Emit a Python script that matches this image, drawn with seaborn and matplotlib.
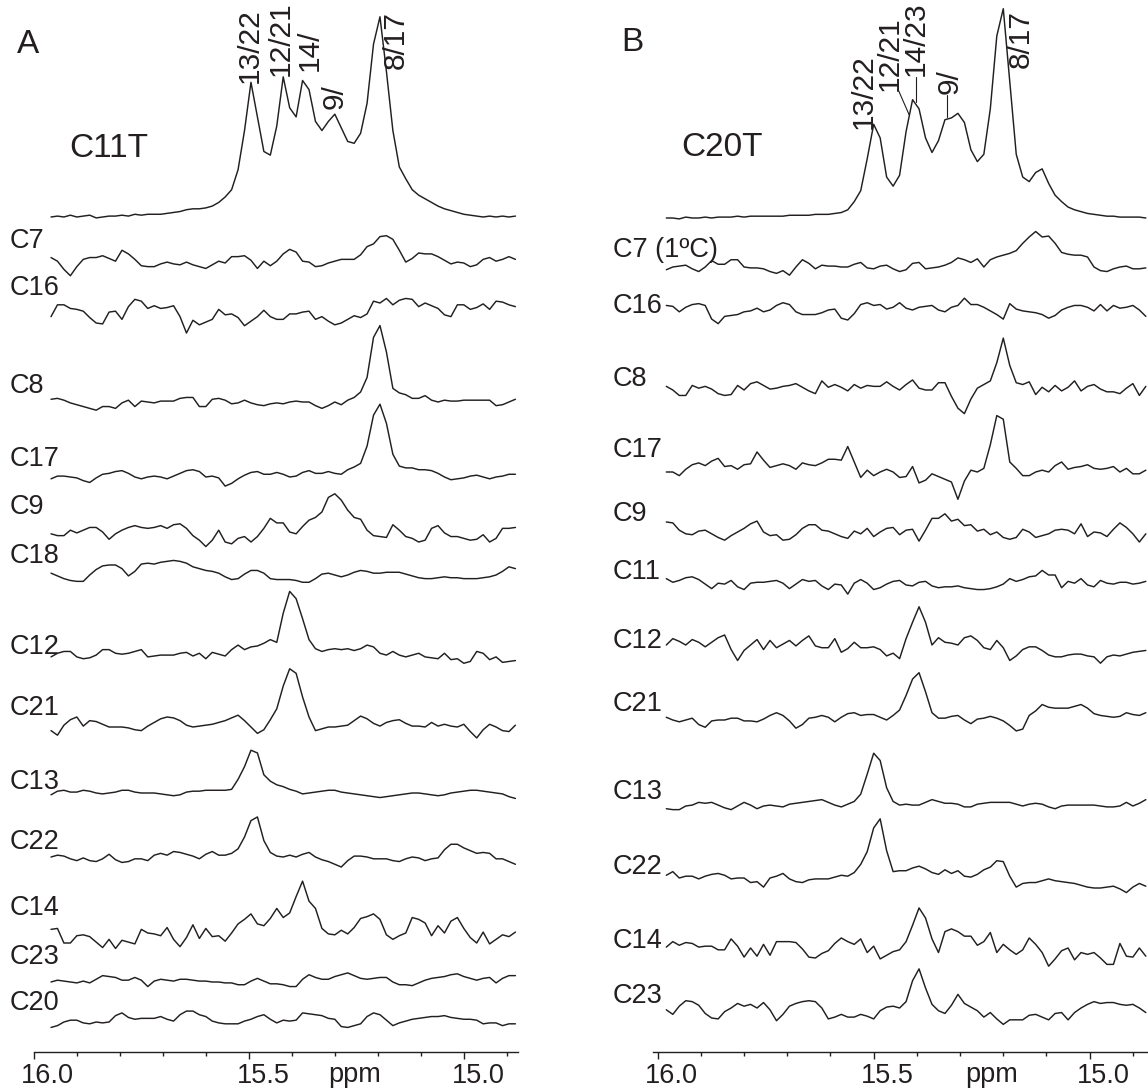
import matplotlib
matplotlib.use('Agg')
import matplotlib.pyplot as plt
from matplotlib.transforms import ScaledTranslation, blended_transform_factory
import numpy as np
import seaborn as sns

# chemical shift grid: first point and spacing (ppm)
a_start, b_start, step = 15.96, 15.98, 0.015

# panel A, 13C spectra of C11T and slices (intensities, arbitrary units)
a_c11t = [0, 1, 0, 2, 0, 1, 2, -1, 0, 1, 1, 2, 1, 3, 2, 3, 3, 3, 4, 5,
          6, 8, 9, 9, 10, 12, 16, 22, 30, 52, 95, 148, 110, 72, 68, 100, 154, 120, 110, 150,
          140, 105, 95, 105, 113, 98, 83, 81, 92, 125, 190, 220, 160, 95, 55, 42, 30, 24, 20, 16,
          12, 9, 7, 5, 3, 2, 1, 0, 1, 0, 1, 0, 1]
a_c7 = [6, 2, -7, -14, -4, 4, 6, 6, 8, 5, 2, 14, 10, 4, -3, -4, -4, -1, 1, -1,
        -2, 1, -2, -4, -6, -2, 2, 0, 7, 7, 8, 3, -6, 2, -3, 2, 10, 15, 12, 2,
        1, -4, -3, 0, 2, 4, 4, 4, 9, 18, 21, 29, 30, 26, 14, 1, 5, 11, 10, 10,
        7, 3, -1, 1, 0, -4, -2, 4, 6, 2, 4, 7, 4]
a_c16 = [-4, 9, 9, 5, 4, 2, -5, -11, -12, 1, 2, -7, 7, 15, 13, 5, 8, 5, 6, 8,
         -4, -22, -8, -13, -10, -7, 4, -2, -1, -5, -14, -9, -4, 3, -4, -7, -7, -1, -1, 1,
         2, -7, -4, -9, -13, -11, -7, -3, -5, -1, 13, 11, 16, 9, 14, 16, 15, 7, 11, 8,
         5, -2, -4, 9, 9, 4, 6, 10, 4, 13, 12, 9, 7]
a_c8 = [3, 4, 2, -1, -3, -5, -7, -9, -5, -5, -7, -1, 2, -5, 1, 0, -1, 1, 1, 1,
        4, 5, 5, -5, -5, 3, 4, 2, -2, -1, 2, -1, -3, -4, -2, -1, -2, 0, 1, 0,
        0, -4, -7, -4, 0, -3, 2, 5, 11, 27, 71, 84, 55, 15, 10, 8, 4, 4, 7, 2,
        0, 2, 1, 1, 2, 2, 2, 2, 2, -4, -3, 0, 3]
a_c17 = [-2, 1, 1, 0, -1, -4, -6, -1, 3, 4, 6, 7, 4, 0, -2, 0, 1, 0, -2, 1,
         4, 7, 8, 6, 0, 1, -1, -10, -7, -2, 2, 5, 6, 3, 3, 5, 3, 0, 1, 5,
         7, 4, 4, 6, 4, 3, 8, 11, 15, 34, 68, 80, 59, 25, 12, 10, 10, 8, 8, 7,
         4, 0, -3, -2, -1, 1, 2, 0, -2, 0, 1, 3, 3]
a_c9 = [-2, -4, -4, 2, -1, 2, 5, 5, 0, -8, -2, 2, 5, 7, 5, 4, 5, 7, 4, 8,
        9, 4, -4, -9, -16, -9, 2, -11, -13, -7, -5, -11, -5, 4, 15, 10, 10, 0, -2, 6,
        13, 16, 22, 38, 42, 35, 24, 16, 14, 2, -4, -5, -6, 8, 2, -5, -7, -11, -9, 4,
        7, -1, -5, -5, -7, -9, -8, -3, -11, -7, 4, 4, 5]
a_c18 = [2, -1, -4, -6, -7, -7, 0, 6, 10, 11, 11, 7, -1, 4, 12, 13, 12, 14, 15, 16,
         15, 13, 9, 7, 5, 4, 2, -2, -5, -4, 1, 5, 5, 2, -4, -5, -5, -5, -6, -8,
         -8, -4, 1, 2, 0, -2, 0, 3, 5, 4, 2, 2, 3, 3, 3, 1, -1, -3, -4, -4,
         -3, -2, -3, -3, -4, -4, -4, -3, -2, 0, 4, 9, 7]
a_c12 = [-1, 3, 5, 5, -1, -3, -2, 1, 7, 7, 3, 2, 3, 5, 7, -1, 0, 1, 1, 1,
         3, 4, 0, 3, -3, 4, 2, 0, 7, 12, 7, 10, 11, 14, 18, 15, 47, 71, 63, 41,
         18, 8, 5, 7, 8, 7, 8, 6, 8, 12, 10, 3, 1, 5, 1, -1, 1, 3, -1, -2,
         -3, 3, -4, -3, -8, -6, 5, 3, -4, -1, -7, -6, -5]
a_c21 = [-4, -9, 2, 8, 11, 1, 7, 6, 3, 0, 0, 0, -1, -3, -4, 1, 5, 9, 11, 10,
         7, 2, 0, 1, 2, 3, 5, 7, 10, 13, 7, 0, -7, -3, 8, 20, 45, 64, 59, 33,
         11, -4, -2, 0, 0, 1, 2, 7, 12, 9, 4, 1, 5, 7, 8, 4, 1, 1, 0, 5,
         1, 3, 1, 0, 3, -5, -12, -3, 3, 0, -4, -5, 2]
a_c13 = [-2, 2, 3, 1, 1, 3, 2, 0, -1, 0, 1, 3, 3, 1, 0, 0, 0, -1, -2, -3,
         -2, 1, 2, 2, 3, 3, 3, 3, 4, 15, 29, 47, 44, 20, 13, 9, 7, 4, 2, -1,
         0, 1, 2, 3, 3, 1, 0, -1, -2, -3, -4, -5, -4, -3, -2, -1, 0, 0, -1, -2,
         -3, -2, 0, 1, 2, 3, 3, 2, 1, 0, -1, -4, -6]
a_c22 = [0, 2, 1, -2, -4, -1, -4, -5, -2, 3, -3, -6, -5, -2, -2, -4, 2, 4, 2, 6,
         5, 3, 1, -2, 3, 6, 2, 2, 4, 9, 22, 40, 44, 18, 5, 1, 0, 2, 0, 3,
         5, 0, -3, -5, -8, -11, -4, 1, 1, 0, -2, -2, -2, -4, -5, -2, 0, -1, -4, -2,
         -1, 8, 14, 14, 10, 7, 4, 5, 4, -2, -2, -5, -8]
a_c14 = [4, 5, -11, -11, -3, -2, -4, -10, -16, -7, -17, -8, -10, -12, 4, 0, -1, -3, 6, -7,
         -15, -5, 9, -6, 5, -4, -3, -9, 0, 10, 15, 21, 10, 8, 16, 27, 17, 22, 40, 57,
         35, 27, 5, -1, -2, 3, -1, 6, 16, 18, 21, 15, -2, -7, -3, 0, 17, 15, 11, -3,
         8, 0, 13, 17, 5, -5, -11, 1, -12, -7, -2, -4, 1]
a_c23 = [0, 2, 1, 0, -1, 1, -1, 3, 7, 6, 5, 2, 2, 5, 2, -5, 1, 3, 2, 1,
         3, 3, 2, 1, 1, 0, 0, -1, -1, -3, -3, 1, 4, 1, -2, -2, -3, -5, -5, 3,
         8, 5, 3, 3, 6, 8, 10, 7, 4, 3, 4, 5, 5, 0, -3, -3, -4, -1, 2, 4,
         5, 6, 8, 9, 6, 4, 2, 4, 5, -1, 4, 7, 7]
a_c20 = [-6, -4, 0, 2, 2, -1, -2, 0, -1, 0, 7, 10, 5, 3, 4, 4, 4, 6, 3, 1,
         8, 12, 12, 8, 6, 1, -1, -2, -2, -2, 1, 3, 6, 8, 3, -1, 2, 1, 2, 10,
         9, 8, 7, 4, 3, -5, -6, -4, -2, 6, 10, 8, 2, -4, -1, 1, 3, 4, 5, 6,
         6, 7, 5, 4, 3, 3, 2, -2, -1, -1, -4, -2, -2]

# panel B, C20T and slices
b_c20t = [0, 0, -1, 1, 0, 0, 1, 0, 1, 1, 1, 2, 1, 2, 2, 2, 2, 2, 2, 3,
          3, 3, 3, 4, 4, 4, 5, 6, 9, 18, 30, 65, 103, 88, 45, 35, 47, 95, 130, 120,
          88, 72, 85, 108, 110, 115, 105, 75, 62, 70, 120, 200, 230, 150, 70, 45, 40, 50, 54, 38,
          25, 18, 12, 9, 7, 5, 4, 3, 2, 2, 1, 1, 1, 1, 0]
b_c7 = [-3, 0, 1, 2, -2, -5, 0, 7, 3, 3, 8, 8, 0, -1, -1, -2, -5, -7, -4, -9,
        0, 8, 4, -2, 2, 1, 1, 0, 0, 3, 5, -1, -2, 1, 2, -2, -5, -3, 4, 5,
        -2, -1, 0, 2, 5, 10, 8, 5, 9, 0, 8, 11, 13, 15, 18, 26, 33, 39, 33, 34,
        26, 16, 14, 13, 13, 11, 0, -4, -5, -2, 0, 1, -2, -2, -1]
b_c16 = [5, 4, -2, 3, 6, 7, 5, -10, -15, -7, -6, -5, -2, -1, 2, -2, 0, 5, 8, 6,
         -2, -5, -5, -5, -3, 0, 1, -9, -11, -4, 6, 8, 5, 6, 1, 3, 8, 2, 0, 3,
         4, 5, 0, -2, 3, 5, 13, 6, 6, 3, -1, -5, -10, 7, 1, -1, -2, -3, -5, -9,
         -6, 0, 3, 5, 5, 3, -1, 6, -1, 5, 2, 3, 5, 0, -7]
b_c8 = [4, 0, -6, -6, 5, 2, 4, 1, -4, -6, -5, 5, 0, 7, 9, 5, 1, 2, 4, 5,
        7, 3, -1, -4, 10, 3, 6, 3, -1, 6, 2, 5, 4, 4, 9, 4, 0, 6, 11, 2,
        0, 0, 8, 8, -7, -20, -26, -10, 2, 6, 10, 30, 57, 27, 8, 6, 9, -5, 3, -2,
        5, -1, 3, 10, -1, 4, 6, 1, -2, -2, -4, 2, 7, -6, 4]
b_c17 = [0, 0, -4, 3, 8, 10, 7, 12, 15, 6, 7, 3, 8, 9, 22, 13, 5, 7, 9, 7,
         3, 10, 8, 7, 10, 14, 14, 13, 28, 11, -6, 2, -4, 0, 3, 0, -6, -5, 6, -12,
         -9, -2, -5, -8, -11, -30, -10, 2, 0, 4, 30, 62, 58, 11, 4, -4, -4, 0, 2, 0,
         7, 11, 3, 5, 6, 8, 4, 3, 4, 6, 0, 4, -2, -2, 2]
b_c9 = [11, 10, 2, -2, -3, 1, 2, -2, -6, -9, -4, 0, 4, 9, 12, 0, -4, -3, -9, -8,
        -3, 4, 8, 8, 2, 1, -2, -5, -7, 1, -2, 4, -5, 0, 4, 5, -3, 2, 3, -10,
        2, 15, 15, 20, 12, 14, 7, 8, 1, 3, -3, 0, -6, -8, -6, 3, 0, -6, -4, -2,
        2, 3, 2, -2, 9, -5, 0, -1, -5, 3, 10, 5, -2, -11, -2]
b_c11 = [7, 3, 5, 8, 9, 6, 1, -4, 2, 1, 5, -2, -5, 2, 3, 3, 4, 5, 2, -4,
         1, 6, 4, 5, -1, -5, 1, 0, -10, 2, 6, 2, -5, -3, 1, 4, 5, 0, -1, 3,
         4, -1, -3, -2, -2, -1, -3, -4, -5, -5, -4, -2, 1, 7, 4, 6, 9, 10, 16, 11,
         11, -3, 4, 2, 7, 0, -2, 5, 2, 1, 3, 3, 1, 2, 4]
b_c12 = [0, 7, 4, 0, 6, 3, -2, 3, 8, 11, -5, -17, -6, 0, 6, -5, 5, -3, 1, 5,
         -1, 5, 10, -1, -3, -3, 7, -8, -4, 3, -3, -3, -2, -5, -12, -9, -15, 7, 25, 42,
         25, 0, 8, 3, 2, 0, 8, 10, 5, -3, -5, 5, -3, -17, -12, -5, -2, -2, -6, -11,
         -13, -13, -11, -10, -10, -12, -13, -20, -13, -11, -12, -10, -8, -7, -6]
b_c21 = [3, 0, -2, 0, 2, -5, -8, -1, 0, 0, 2, 2, -1, -1, -2, 1, 5, 8, 5, -1,
         -9, -5, 2, 3, 5, 3, -2, 3, 7, 8, 5, 6, 6, 3, 0, 5, 11, 27, 45, 52,
         31, 8, 2, 2, 4, 5, 0, -4, 1, 2, 4, 2, -1, -6, -12, -10, 5, 10, 17, 14,
         13, 13, 13, 15, 17, 13, 7, 5, 4, 3, 4, 8, 6, 5, 8]
b_c13 = [-3, -4, -4, 0, 1, 4, 3, 4, 1, -2, -4, 0, 4, 1, -3, 0, 1, 0, -1, 2,
         3, 4, 5, 6, 7, 4, 1, -1, 2, 5, 13, 35, 58, 50, 20, 5, 1, 2, 1, 1,
         4, 7, 5, 3, 3, 2, -1, -1, 2, 3, 4, 4, 4, 4, 2, 0, 2, 3, 2, -1,
         -3, 0, 1, 1, 1, 1, 1, 0, -1, -1, 0, 4, 0, 3, 7]
b_c22 = [3, 7, 0, 2, 2, -1, 2, 4, 5, 3, -1, 0, 0, -5, -4, -10, 0, 2, 5, -1,
         -4, -5, -2, -1, -1, -1, 1, 3, 2, 6, 15, 29, 55, 65, 30, 7, 8, 8, 11, 13,
         10, 6, 4, 9, 5, 8, 2, 1, 4, 9, 12, 19, 18, 2, -10, -6, -5, -5, -3, -1,
         -3, -4, -5, -6, -8, -10, -11, -11, -10, -9, -12, -16, -10, -6, -9]
b_c14 = [1, 7, 3, 6, 5, 1, 2, 2, -2, -2, 10, 2, -10, 0, -9, 4, -8, 7, 7, 7,
         6, -1, -10, -11, -6, -3, 5, 11, 7, 4, 10, -5, 2, -12, -8, -4, -2, 7, 25, 44,
         33, 10, -5, 18, 21, 18, 13, 13, 3, 7, 17, -5, 4, -2, -7, -2, 11, 4, -5, -20,
         -12, -3, 0, -13, -5, -7, -5, -11, -18, -18, 5, -9, -10, 0, -9]
b_c23 = [-2, -7, 2, 8, 7, 3, -6, -11, -12, -4, 0, 5, 2, 4, 0, 6, -2, -14, -7, 2,
         5, 7, 8, 7, 0, -12, -10, -7, -10, -10, -7, -9, -12, -3, 1, 2, 0, 7, 30, 43,
         22, 4, -3, -6, 3, 15, 5, 1, -3, -10, -5, -12, -18, -13, -13, -13, -8, -7, -10, -13,
         -6, -5, -13, -5, 0, 4, 7, 5, 6, 6, 4, 3, 4, 0, -5]

a_names = ['C11T', 'C7', 'C16', 'C8', 'C17', 'C9', 'C18', 'C12', 'C21', 'C13', 'C22', 'C14', 'C23', 'C20']
b_names = ['C20T', 'C7 (1\u00baC)', 'C16', 'C8', 'C17', 'C9', 'C11', 'C12', 'C21', 'C13', 'C22', 'C14', 'C23']
a_peaks = ['13/22', '12/21', '14/', '9/', '8/17']
b_peaks = ['13/22', '12/21', '14/23', '9/', '8/17']
ppm_ticks = [16.0, 15.5, 15.0]

# ---- layout (pixels of the 1148x1090 picture) ----
W, H, AXIS_Y = 1148, 1090, 1052
GAIN = 0.91
INK = '#231f20'
a_base = [217, 263, 313, 402, 477, 532, 575, 656, 727, 793, 857, 933, 982, 1022]
b_base = [218, 267, 310, 390, 472, 532, 585, 645, 720, 806, 878, 948, 1008]
a_label_y = [None, 248, 295, 393, 466, 514, 563, 654, 715, 789, 849, 915, 964, 1010]
b_label_y = [None, 257, 313, 386, 457, 521, 579, 648, 711, 799, 874, 948, 1003]
a_peak_pos = [(15.498, 83), (15.426, 76), (15.358, 71), (15.300, 109), (15.158, 69)]
b_peak_pos = [(15.524, 129), (15.462, 91), (15.402, 76), (15.325, 94), (15.159, 68)]

sns.set_style('ticks')
plt.rcParams['font.family'] = ['Liberation Sans', 'DejaVu Sans']
plt.rcParams['axes.linewidth'] = 1.0

fig = plt.figure(figsize=(W / 100, H / 100), dpi=100)


def px_y(y):
    return AXIS_Y - y


def panel(ppm_left, ppm_right, px_per_ppm, right_px):
    width = (ppm_left - ppm_right) * px_per_ppm
    ax = fig.add_axes([(right_px - width) / W, (H - AXIS_Y) / H, width / W, AXIS_Y / H])
    ax.patch.set_alpha(0)
    return ax


def draw(ax, traces, start, bases):
    for vals, base in zip(traces, bases):
        vals = np.asarray(vals, dtype=float)
        ppm = start - step * np.arange(len(vals))
        sns.lineplot(x=ppm, y=px_y(base) + GAIN * vals, ax=ax, color=INK, lw=1.05,
                     estimator=None, sort=False)
    return ax


def style_axis(ax, ppm_left, ppm_right, ppm_label_x):
    ax.set_xlim(ppm_left, ppm_right)
    ax.set_ylim(0, AXIS_Y)
    sns.despine(ax=ax, left=True)
    ax.set_yticks([])
    ax.set_xticks(ppm_ticks)
    ax.set_xticks(np.round(np.arange(16.0, 14.85, -0.1), 1), minor=True)
    ax.set_xticklabels(['%.1f' % t for t in ppm_ticks])
    ax.tick_params(axis='x', which='major', length=5, width=1.0, pad=3,
                   labelsize=19.5, colors=INK)
    ax.tick_params(axis='x', which='minor', length=3, width=1.0, colors=INK)
    ax.spines['bottom'].set_color(INK)
    shift = ScaledTranslation(14 / 100, 0, fig.dpi_scale_trans)
    for lab in ax.get_xticklabels():
        lab.set_transform(lab.get_transform() + shift)
    trans = blended_transform_factory(ax.transData, ax.transAxes)
    ax.text(ppm_label_x, -30 / AXIS_Y, 'ppm', transform=trans, ha='center',
            va='baseline', fontsize=19.5, color=INK)
    ax.set_xlabel('')
    ax.set_ylabel('')


def peak_labels(ax, names, pos):
    for name, (x, y) in zip(names, pos):
        ax.text(x, px_y(y), name, rotation=90, ha='center', va='bottom',
                fontsize=21.5, color=INK)


def trace_labels(names, ys, x_px):
    for name, y in zip(names, ys):
        if y is None:
            continue
        fig.text(x_px / W, (H - y) / H, name, ha='left', va='baseline',
                 fontsize=19.5, color=INK)


a_traces = [a_c11t, a_c7, a_c16, a_c8, a_c17, a_c9, a_c18, a_c12, a_c21, a_c13,
            a_c22, a_c14, a_c23, a_c20]
b_traces = [b_c20t, b_c7, b_c16, b_c8, b_c17, b_c9, b_c11, b_c12, b_c21, b_c13,
            b_c22, b_c14, b_c23]

ax_a = panel(16.0, 14.874, 430, 518)
draw(ax_a, a_traces, a_start, a_base)
style_axis(ax_a, 16.0, 14.874, 15.255)
peak_labels(ax_a, a_peaks, a_peak_pos)

ax_b = panel(16.01, 14.865, 432, W)
draw(ax_b, b_traces, b_start, b_base)
style_axis(ax_b, 16.01, 14.865, 15.228)
peak_labels(ax_b, b_peaks, b_peak_pos)

# leader lines from the crowded B labels down to their peaks
top_b = np.asarray(b_c20t, dtype=float)
ppm_b = b_start - step * np.arange(len(top_b))
top_y = px_y(b_base[0]) + GAIN * top_b
for (x_txt, y_txt), x_pk in [((15.444, 89), 15.418), ((15.403, 77), 15.403), ((15.330, 95), 15.330)]:
    y_pk = np.interp(x_pk, ppm_b[::-1], top_y[::-1]) + 2
    ax_b.plot([x_txt, x_pk], [px_y(y_txt), y_pk], color=INK, lw=0.8)

trace_labels(a_names, a_label_y, 10)
trace_labels(b_names, b_label_y, 613)
fig.text(17 / W, (H - 53) / H, 'A', fontsize=24, color=INK, va='baseline')
fig.text(69 / W, (H - 157) / H, a_names[0], fontsize=24, color=INK, va='baseline')
fig.text(621 / W, (H - 51) / H, 'B', fontsize=24, color=INK, va='baseline')
fig.text(681 / W, (H - 156) / H, b_names[0], fontsize=24, color=INK, va='baseline')

fig.savefig('out.png', dpi=100, facecolor='white')
